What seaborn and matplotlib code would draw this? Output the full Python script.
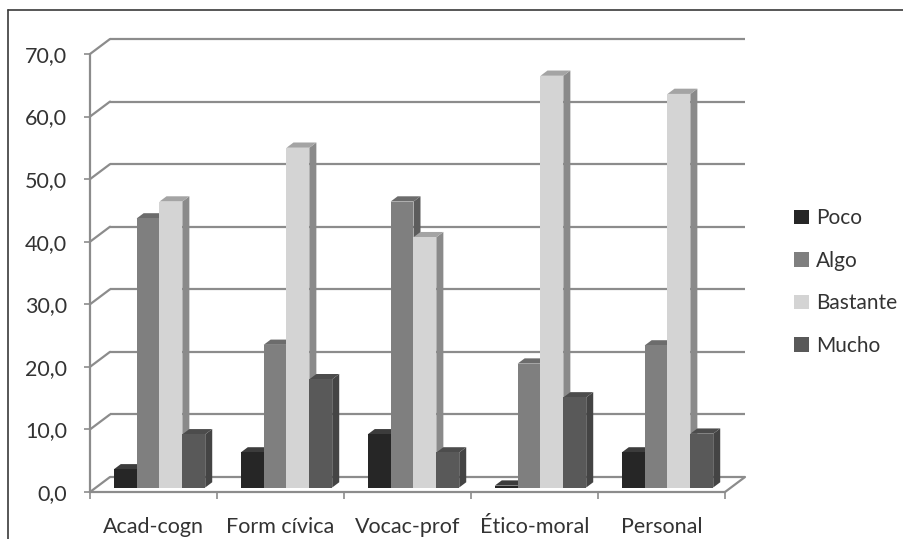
import matplotlib
matplotlib.use("Agg")
import matplotlib.pyplot as plt
import matplotlib.colors as mcolors
from matplotlib.patches import Polygon, Patch
from matplotlib.lines import Line2D
import pandas as pd
import seaborn as sns

# --- data -------------------------------------------------------------
categorias = ["Acad-cogn", "Form cívica", "Vocac-prof", "Ético-moral", "Personal"]
niveles = ["Poco", "Algo", "Bastante", "Mucho"]
poco = [2.9, 5.6, 8.5, 0.3, 5.6]
algo = [43.0, 22.8, 45.7, 19.8, 22.7]
bastante = [45.7, 54.3, 40.0, 65.8, 62.9]
mucho = [8.5, 17.3, 5.6, 14.4, 8.6]
y_ticks = [0, 10, 20, 30, 40, 50, 60, 70]

series = {"Poco": poco, "Algo": algo, "Bastante": bastante, "Mucho": mucho}
df = pd.DataFrame(
    [(c, n, v) for n in niveles for c, v in zip(categorias, series[n])],
    columns=["categoria", "nivel", "valor"],
)

# --- style ------------------------------------------------------------
sns.set_style("white")
plt.rcParams["font.family"] = ["Lato", "DejaVu Sans"]
TEXT = "#333333"
GRID = "#8c8c8c"
FS = 15.5

front = ["#262626", "#7f7f7f", "#d4d4d4", "#595959"]
side = ["#1a1a1a", "#5c5c5c", "#8a8a8a", "#444444"]
top = ["#3c3c3c", "#6c6c6c", "#a4a4a4", "#4c4c4c"]

W, H = 904, 539
fig = plt.figure(figsize=(W / 100, H / 100), dpi=100)
x0px, x1px, y0px, ytpx = 90, 725, 492, 54
ax = fig.add_axes([x0px / W, 1 - y0px / H, (x1px - x0px) / W, (y0px - ytpx) / H])

sns.barplot(
    data=df, x="categoria", y="valor", hue="nivel",
    order=categorias, hue_order=niveles, palette=front,
    width=0.72, saturation=1, errorbar=None, legend=False,
    linewidth=0, ax=ax,
)
ax.set_xlim(-0.5, len(categorias) - 0.5)
ax.set_ylim(y_ticks[0], y_ticks[-1])
for s in ax.spines.values():
    s.set_visible(False)

# depth of the 3-D box, expressed in data units
px_x = (x1px - x0px) / len(categorias)
px_y = (y0px - ytpx) / (y_ticks[-1] - y_ticks[0])
ddx, ddy = 20 / px_x, 15 / px_y
xl, xr = -0.5, len(categorias) - 0.5

# back wall, left wall and floor
for v in y_ticks:
    ax.plot([xl + ddx, xr + ddx], [v + ddy, v + ddy], color=GRID, lw=1.6,
            clip_on=False, zorder=1, solid_capstyle="butt")
    ax.plot([xl, xl + ddx], [v, v + ddy], color=GRID, lw=1.6,
            clip_on=False, zorder=1)
ax.plot([xl, xr], [0, 0], color=GRID, lw=1.6, clip_on=False, zorder=1)
ax.plot([xr, xr + ddx], [0, ddy], color=GRID, lw=1.6, clip_on=False, zorder=1)
ax.plot([xl, xl], [0, y_ticks[-1]], color=GRID, lw=1.6, clip_on=False, zorder=1)

# turn the flat bars into boxes
front_hex = [mcolors.to_hex(c) for c in front]
bars = sorted(ax.patches, key=lambda p: p.get_x())
sx, sy = 0.3 * ddx, 0.3 * ddy
dx, dy = 0.35 * ddx, 0.35 * ddy
for i, p in enumerate(bars):
    k = front_hex.index(mcolors.to_hex(p.get_facecolor()))
    x, y, w, h = p.get_x() + sx, p.get_y() + sy, p.get_width(), p.get_height()
    p.set_x(x)
    p.set_y(y)
    z = 3 + i * 0.01
    p.set_zorder(z + 0.005)
    p.set_clip_on(False)
    ax.add_patch(Polygon([(x + w, y), (x + w + dx, y + dy), (x + w + dx, y + h + dy), (x + w, y + h)],
                         closed=True, facecolor=side[k], edgecolor="none", zorder=z, clip_on=False))
    ax.add_patch(Polygon([(x, y + h), (x + w, y + h), (x + w + dx, y + h + dy), (x + dx, y + h + dy)],
                         closed=True, facecolor=top[k], edgecolor="none", zorder=z, clip_on=False))

# axes ticks and labels
ax.set_yticks(y_ticks)
ax.set_yticklabels([f"{v:.1f}".replace(".", ",") for v in y_ticks])
ax.set_xticks(range(len(categorias)))
ax.set_xticklabels(categorias)
ax.set_xticks([i - 0.5 for i in range(len(categorias) + 1)], minor=True)
ax.tick_params(axis="y", length=4.5, width=1.2, color=GRID, pad=12,
               labelsize=FS, labelcolor=TEXT, left=True)
ax.tick_params(axis="x", which="major", length=0, pad=18, labelsize=FS, labelcolor=TEXT)
ax.tick_params(axis="x", which="minor", length=5, width=1.2, color=GRID, bottom=True)
ax.set_xlabel("")
ax.set_ylabel("")

# legend
handles = [Patch(facecolor=c, edgecolor="none", label=n) for c, n in zip(front, niveles)]
fig.legend(handles=handles, loc="center left", bbox_to_anchor=(794 / W, 1 - 282 / H),
           frameon=False, fontsize=15, labelcolor=TEXT, handlelength=0.72,
           handleheight=0.72, handletextpad=0.32, labelspacing=1.08,
           borderpad=0, borderaxespad=0)

# outer frame
fig.add_artist(Line2D([8 / W, 1], [1 - 10 / H, 1 - 10 / H], transform=fig.transFigure,
                      color="#3a3a3a", lw=1.2))
fig.add_artist(Line2D([8 / W, 8 / W], [0, 1 - 10 / H], transform=fig.transFigure,
                      color="#3a3a3a", lw=1.2))

fig.savefig("out.png", dpi=100)
